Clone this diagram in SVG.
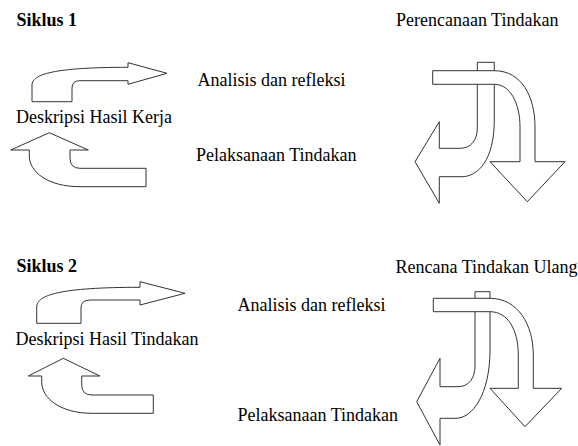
<svg xmlns="http://www.w3.org/2000/svg" width="578" height="446" viewBox="0 0 578 446">
<style>
text{font-family:'Liberation Serif','Tinos','Times New Roman','DejaVu Serif',serif;font-size:18px;fill:#000}
.b{font-weight:bold}
.a{fill:#fff;stroke:#333;stroke-width:1;stroke-linejoin:miter}
</style>
<rect width="578" height="446" fill="#fff"/>
<g id="connectors">
<g id="c1-up"><path class="a" d="M32,101.7 V85 C32,74 55,67.3 128,67.3 V62.7 L167,73.3 L128,84.3 V80.7 H80 Q72,80.7 72,88 V101.7 Z"/></g>
<g id="c1-back"><path class="a" d="M49.3,132.7 L88.3,150 H70 V158 Q70,168.3 80,168.3 H146 V186.7 H80 C48,186.7 29.3,172 29.3,156 V150 H10.7 Z"/></g>
<g id="c1-left"><path class="a" d="M477.3,62.3 H494.3 V120 C494.3,160 478,176.7 461.7,176.7 H439.3 V203.3 L415,161.7 L439.3,121.7 V148.3 H460 C471,148.3 477.3,140 477.3,128 Z"/></g>
<g id="c1-down"><path class="a" d="M432.7,70.7 H494.3 C522,70.7 535,97 535,127 V161.7 H565 L527.3,201.7 L490,161.7 H520 V127 C520,103 510,84.3 494.3,84.3 H432.7 Z"/></g>
<g id="c2-up"><path class="a" d="M36.7,323.3 V307 C36.7,295 60,287.3 140,287.3 V281.7 L185,293.3 L140,305 V300 H90 Q81,300 81,308 V323.3 Z"/></g>
<g id="c2-back"><path class="a" d="M63.3,358.3 L100,376 H81.7 V385 Q81.7,395 92,395 H153.3 V413.3 H92 C60,413.3 41.7,398 41.7,382 V376 H28.3 Z"/></g>
<g id="c2-left"><path class="a" d="M475,291.7 H490 V350 C490,395 472,418.3 456,418.3 H440 V445 L416.7,401.7 L440,358.3 V386.7 H458 C469,386.7 475,378 475,366 Z"/></g>
<g id="c2-down"><path class="a" d="M433.3,298.3 H490 C518,298.3 533.3,325 533.3,355 V388.3 H561.7 L525,426.7 L490,388.3 H518.3 V355 C518.3,330 508,311.7 490,311.7 H433.3 Z"/></g>
</g>
<g id="siklus1"><text class="b" x="16.5" y="25.5">Siklus 1</text></g>
<g id="perencanaan"><text x="396" y="26">Perencanaan Tindakan</text></g>
<g id="analisis1"><text x="197.5" y="85.5">Analisis dan refleksi</text></g>
<g id="deskripsi1"><text x="16" y="122.5">Deskripsi Hasil Kerja</text></g>
<g id="pelaksanaan1"><text x="196" y="161">Pelaksanaan Tindakan</text></g>
<g id="siklus2"><text class="b" x="16.5" y="272">Siklus 2</text></g>
<g id="rencana"><text x="395.5" y="272.5">Rencana Tindakan Ulang</text></g>
<g id="analisis2"><text x="237.5" y="311">Analisis dan refleksi</text></g>
<g id="deskripsi2"><text x="15.5" y="345">Deskripsi Hasil Tindakan</text></g>
<g id="pelaksanaan2"><text x="237.5" y="421">Pelaksanaan Tindakan</text></g>
</svg>
